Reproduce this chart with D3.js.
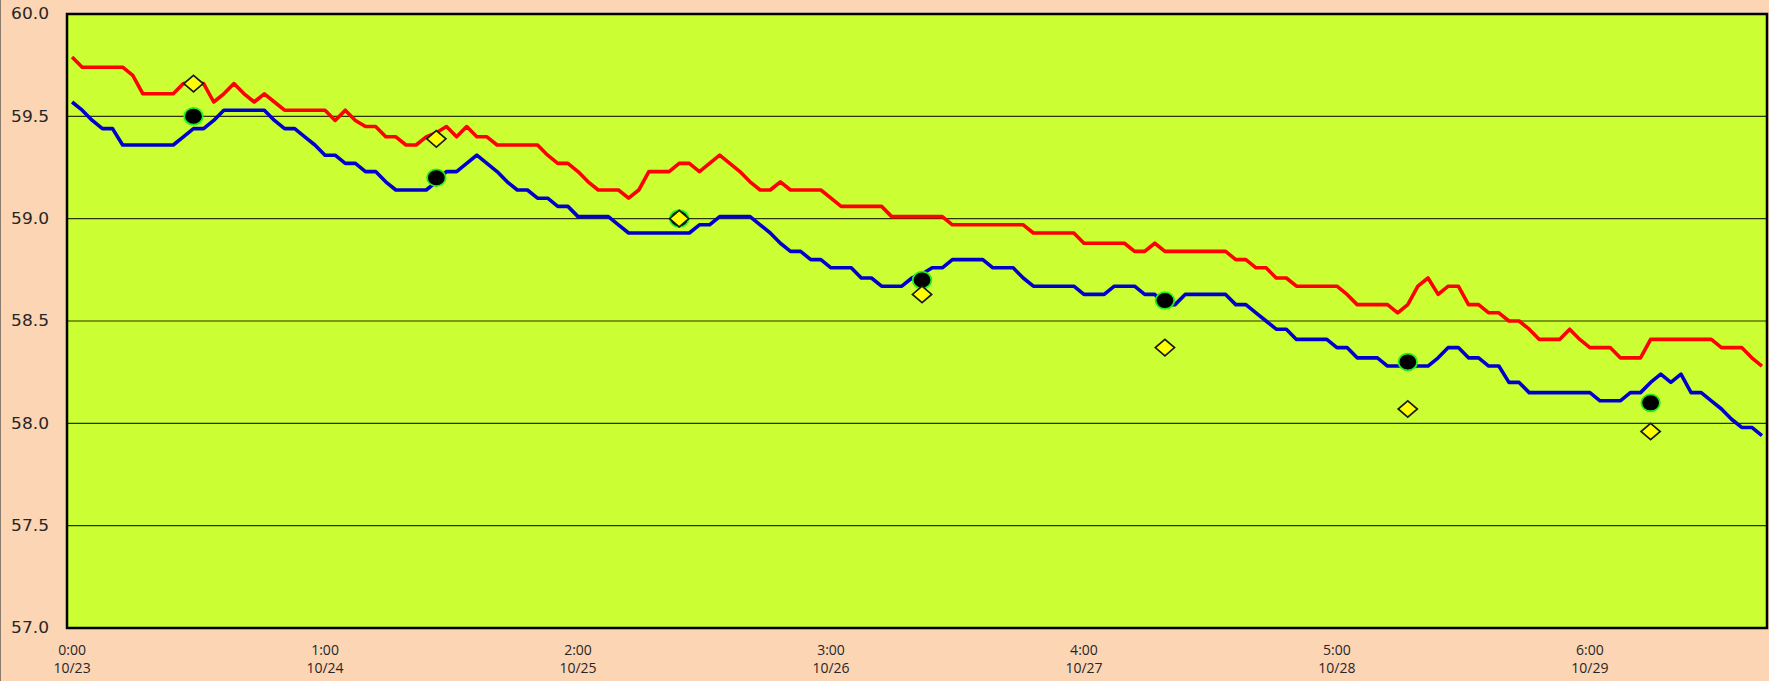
<!DOCTYPE html>
<html>
<head>
<meta charset="utf-8">
<script src="https://cdn.jsdelivr.net/npm/d3@7"></script>
<style>
  html, body { margin: 0; padding: 0; background: #fcd5b5; }
  svg { display: block; }
  .ylab text { font-family: "DejaVu Sans", Verdana, sans-serif; fill: #262626; }
  .xlab text { font-family: "Open Sans", sans-serif; fill: #262626; }
</style>
</head>
<body>
<svg id="chart" width="1769" height="681"></svg>
<script>
// hourly readings, 10/23 0:00 onward
const redValues = [
  59.79, 59.74, 59.74, 59.74, 59.74, 59.74, 59.70, 59.61, 59.61, 59.61,
  59.61, 59.66, 59.66, 59.66, 59.57, 59.61, 59.66, 59.61, 59.57, 59.61,
  59.57, 59.53, 59.53, 59.53, 59.53, 59.53, 59.48, 59.53, 59.48, 59.45,
  59.45, 59.40, 59.40, 59.36, 59.36, 59.40, 59.42, 59.45, 59.40, 59.45,
  59.40, 59.40, 59.36, 59.36, 59.36, 59.36, 59.36, 59.31, 59.27, 59.27,
  59.23, 59.18, 59.14, 59.14, 59.14, 59.10, 59.14, 59.23, 59.23, 59.23,
  59.27, 59.27, 59.23, 59.27, 59.31, 59.27, 59.23, 59.18, 59.14, 59.14,
  59.18, 59.14, 59.14, 59.14, 59.14, 59.10, 59.06, 59.06, 59.06, 59.06,
  59.06, 59.01, 59.01, 59.01, 59.01, 59.01, 59.01, 58.97, 58.97, 58.97,
  58.97, 58.97, 58.97, 58.97, 58.97, 58.93, 58.93, 58.93, 58.93, 58.93,
  58.88, 58.88, 58.88, 58.88, 58.88, 58.84, 58.84, 58.88, 58.84, 58.84,
  58.84, 58.84, 58.84, 58.84, 58.84, 58.80, 58.80, 58.76, 58.76, 58.71,
  58.71, 58.67, 58.67, 58.67, 58.67, 58.67, 58.63, 58.58, 58.58, 58.58,
  58.58, 58.54, 58.58, 58.67, 58.71, 58.63, 58.67, 58.67, 58.58, 58.58,
  58.54, 58.54, 58.50, 58.50, 58.46, 58.41, 58.41, 58.41, 58.46, 58.41,
  58.37, 58.37, 58.37, 58.32, 58.32, 58.32, 58.41, 58.41, 58.41, 58.41,
  58.41, 58.41, 58.41, 58.37, 58.37, 58.37, 58.32, 58.28
];
const blueValues = [
  59.57, 59.53, 59.48, 59.44, 59.44, 59.36, 59.36, 59.36, 59.36, 59.36,
  59.36, 59.40, 59.44, 59.44, 59.48, 59.53, 59.53, 59.53, 59.53, 59.53,
  59.48, 59.44, 59.44, 59.40, 59.36, 59.31, 59.31, 59.27, 59.27, 59.23,
  59.23, 59.18, 59.14, 59.14, 59.14, 59.14, 59.18, 59.23, 59.23, 59.27,
  59.31, 59.27, 59.23, 59.18, 59.14, 59.14, 59.10, 59.10, 59.06, 59.06,
  59.01, 59.01, 59.01, 59.01, 58.97, 58.93, 58.93, 58.93, 58.93, 58.93,
  58.93, 58.93, 58.97, 58.97, 59.01, 59.01, 59.01, 59.01, 58.97, 58.93,
  58.88, 58.84, 58.84, 58.80, 58.80, 58.76, 58.76, 58.76, 58.71, 58.71,
  58.67, 58.67, 58.67, 58.71, 58.73, 58.76, 58.76, 58.80, 58.80, 58.80,
  58.80, 58.76, 58.76, 58.76, 58.71, 58.67, 58.67, 58.67, 58.67, 58.67,
  58.63, 58.63, 58.63, 58.67, 58.67, 58.67, 58.63, 58.63, 58.58, 58.58,
  58.63, 58.63, 58.63, 58.63, 58.63, 58.58, 58.58, 58.54, 58.50, 58.46,
  58.46, 58.41, 58.41, 58.41, 58.41, 58.37, 58.37, 58.32, 58.32, 58.32,
  58.28, 58.28, 58.28, 58.28, 58.28, 58.32, 58.37, 58.37, 58.32, 58.32,
  58.28, 58.28, 58.20, 58.20, 58.15, 58.15, 58.15, 58.15, 58.15, 58.15,
  58.15, 58.11, 58.11, 58.11, 58.15, 58.15, 58.20, 58.24, 58.20, 58.24,
  58.15, 58.15, 58.11, 58.07, 58.02, 57.98, 57.98, 57.94
];
// daily check points (at 12:00 each day)
const markIndex = [12, 36, 60, 84, 108, 132, 156];
const circleValues = [59.50, 59.20, 59.00, 58.70, 58.60, 58.30, 58.10];
const diamondValues = [59.66, 59.39, 59.00, 58.63, 58.37, 58.07, 57.96];

const tickIndex = [0, 25, 50, 75, 100, 125, 150];
const tickTimes = ["0:00", "1:00", "2:00", "3:00", "4:00", "5:00", "6:00"];
const tickDates = ["10/23", "10/24", "10/25", "10/26", "10/27", "10/28", "10/29"];
const yTicks = [57.0, 57.5, 58.0, 58.5, 59.0, 59.5, 60.0];

const margin = { left: 67, top: 14, right: 2, bottom: 53 };
const width = 1769, height = 681;

const svg = d3.select('#chart');

svg.append('rect')
    .attr('x', 0.5).attr('y', -2)
    .attr('width', width + 2).attr('height', height + 4)
    .attr('fill', '#fcd5b5')
    .attr('stroke', '#8c7a6b')
    .attr('stroke-width', 1);

let x = d3.scalePoint()
    .domain(d3.range(redValues.length))
    .range([margin.left, width - margin.right])
    .padding(0.5);

let y = d3.scaleLinear()
    .domain([57, 60])
    .range([height - margin.bottom, margin.top]);

svg.append('rect')
    .attr('x', margin.left).attr('y', margin.top)
    .attr('width', width - margin.right - margin.left)
    .attr('height', y(57) - y(60))
    .attr('fill', '#ccff33');

// gridlines
svg.append('g')
    .selectAll('line')
    .data(yTicks.filter(d => d > 57 && d < 60))
    .join('line')
    .attr('x1', margin.left).attr('x2', width - margin.right)
    .attr('y1', d => y(d)).attr('y2', d => y(d))
    .attr('stroke', '#2b3300')
    .attr('stroke-width', 1.2);

let line = d3.line()
    .x((d, i) => x(i))
    .y(d => y(d));

svg.append('path')
    .datum(redValues)
    .attr('fill', 'none')
    .attr('stroke', '#ff0000')
    .attr('stroke-width', 3.6)
    .attr('stroke-linejoin', 'round')
    .attr('d', line);

svg.append('path')
    .datum(blueValues)
    .attr('fill', 'none')
    .attr('stroke', '#0000cc')
    .attr('stroke-width', 3.6)
    .attr('stroke-linejoin', 'round')
    .attr('d', line);

svg.append('g')
    .selectAll('ellipse')
    .data(circleValues)
    .join('ellipse')
    .attr('cx', (d, i) => x(markIndex[i]))
    .attr('cy', d => y(d))
    .attr('rx', 9.3)
    .attr('ry', 8.4)
    .attr('fill', '#000')
    .attr('stroke', '#22ee22')
    .attr('stroke-width', 1.8);

let diamond = 'M0,-8.2L9.6,0L0,8.2L-9.6,0Z';
svg.append('g')
    .selectAll('path')
    .data(diamondValues)
    .join('path')
    .attr('transform', (d, i) => `translate(${x(markIndex[i])},${y(d)})`)
    .attr('d', diamond)
    .attr('fill', '#ffff00')
    .attr('stroke', '#1a1a1a')
    .attr('stroke-width', 1.7);

// plot frame
svg.append('rect')
    .attr('x', margin.left).attr('y', margin.top)
    .attr('width', width - margin.right - margin.left)
    .attr('height', y(57) - y(60))
    .attr('fill', 'none')
    .attr('stroke', '#000')
    .attr('stroke-width', 2.5);

// y labels
svg.append('g')
    .attr('class', 'ylab')
    .selectAll('text')
    .data(yTicks)
    .join('text')
    .attr('transform', d => `translate(49,${y(d)}) scale(1.12,1)`)
    .attr('text-anchor', 'end')
    .attr('dominant-baseline', 'central')
    .style('font-size', '15.2px')
    .text(d => d3.format('.1f')(d));

// x labels
let xl = svg.append('g')
    .attr('class', 'xlab')
    .selectAll('text')
    .data(tickIndex)
    .join('text')
    .attr('transform', d => `translate(${x(d)},0)`)
    .attr('text-anchor', 'middle')
    .style('font-size', '14px');

xl.append('tspan')
    .attr('x', 0).attr('y', 655)
    .text((d, i) => tickTimes[i]);
xl.append('tspan')
    .attr('x', 0).attr('y', 673)
    .text((d, i) => tickDates[i]);
</script>
</body>
</html>
